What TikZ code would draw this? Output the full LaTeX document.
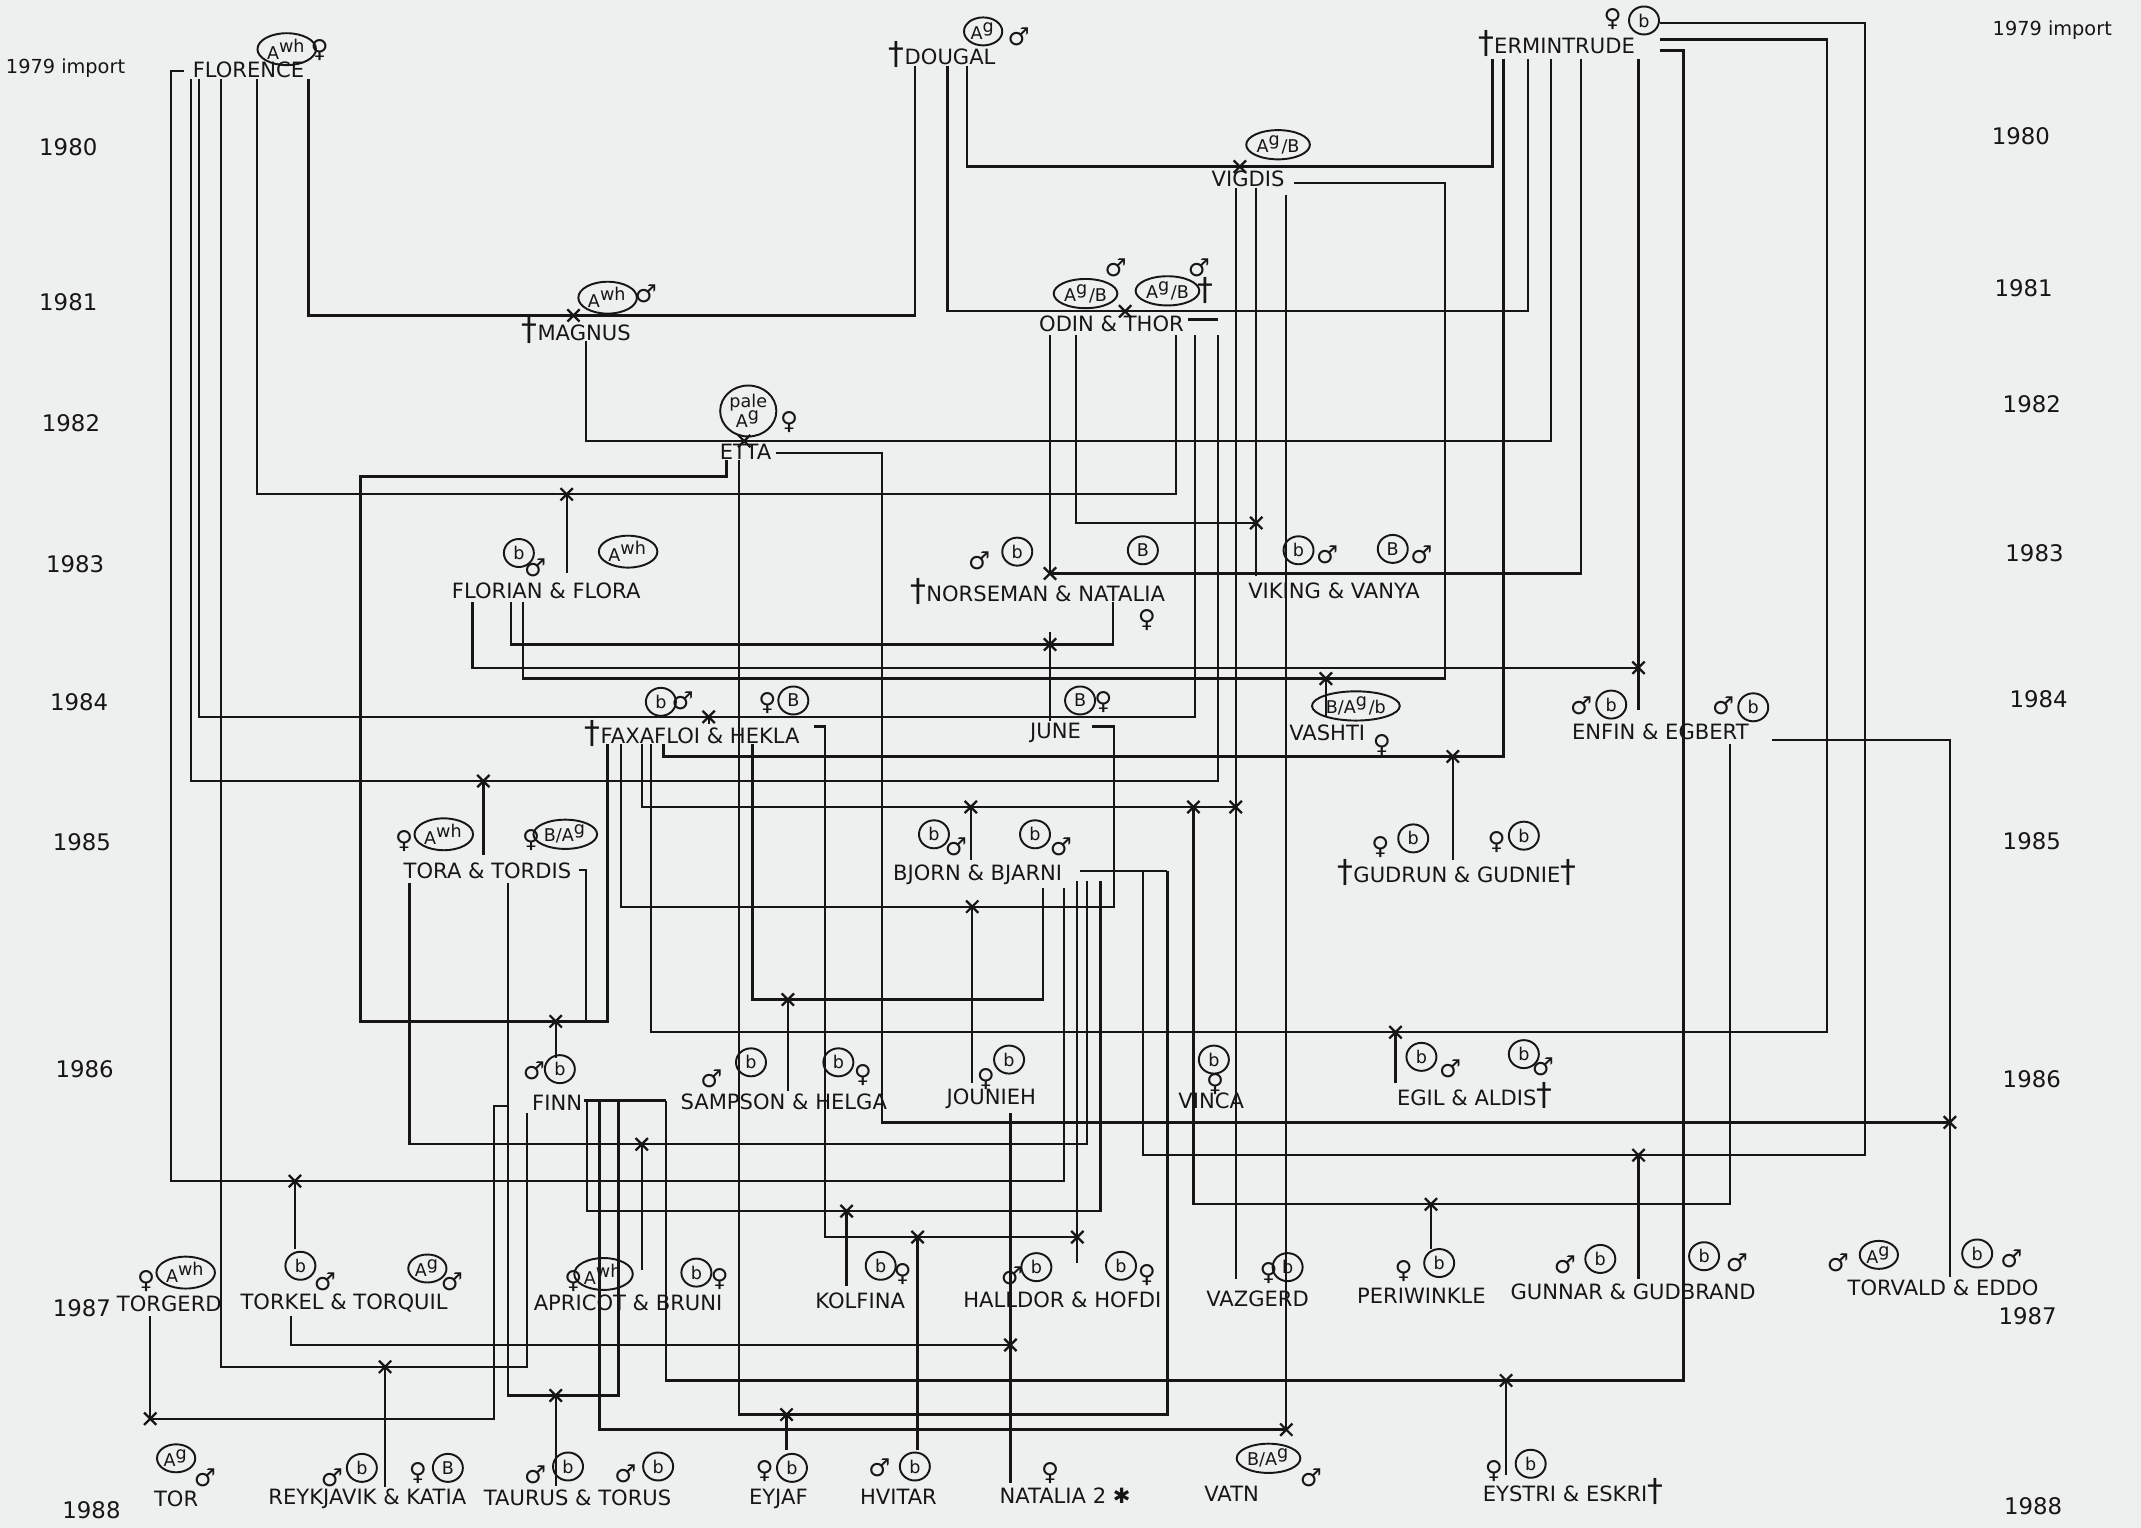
\documentclass[tikz,border=0pt]{standalone}
\usepackage{fontspec}
\setmainfont{DejaVu Sans}
\usepackage{tikz}
\usetikzlibrary{shapes.geometric}
\definecolor{paper}{HTML}{EEEFEF}
\definecolor{ink}{HTML}{161616}
\newcommand{\dg}{{\fontsize{9}{9}\selectfont †}}
\newcommand{\Awh}{A\textsuperscript{wh}}
\newcommand{\Ag}{A\textsuperscript{g}}
\newcommand{\AgB}{A\textsuperscript{g}/B}
\newcommand{\BAg}{B/A\textsuperscript{g}}
\newcommand{\BAgb}{B/A\textsuperscript{g}/b}

\begin{document}
\begin{tikzpicture}[
    x=0.013654cm, y=-0.013654cm,
    link/.style={draw=ink, line width=0.65pt},
    xmk/.style={draw=ink, line width=0.65pt},
    nm/.style={text=ink, font=\fontsize{6}{6}\selectfont, inner sep=0.5pt},
    yr/.style={text=ink, font=\fontsize{6.5}{7}\selectfont, inner sep=0pt},
    tagc/.style={draw=ink, ellipse, line width=0.55pt, inner sep=0.3pt,
                 minimum width=0.3cm, minimum height=0.28cm,
                 text=ink, font=\fontsize{5}{5}\selectfont},
    sx/.style={text=ink, font=\fontsize{7}{7}\selectfont, inner sep=0pt}
  ]
    \fill[paper] (0,0) rectangle (1568,1119);
    \useasboundingbox (0,0) rectangle (1568,1119);

    % years
    \node[yr, font=\fontsize{5.5}{6}\selectfont] (yL79) at (48,50) {1979 import};
    \node[yr] (yL80) at (50,108) {1980};
    \node[yr] (yL81) at (50,221) {1981};
    \node[yr] (yL82) at (52,310) {1982};
    \node[yr] (yL83) at (55,413) {1983};
    \node[yr] (yL84) at (58,514) {1984};
    \node[yr] (yL85) at (60,617) {1985};
    \node[yr] (yL86) at (62,783) {1986};
    \node[yr] (yL87) at (60,958) {1987};
    \node[yr] (yL88) at (67,1106) {1988};
    \node[yr, font=\fontsize{5.5}{6}\selectfont] (yR79) at (1503,22) {1979 import};
    \node[yr] (yR80) at (1480,100) {1980};
    \node[yr] (yR81) at (1482,211) {1981};
    \node[yr] (yR82) at (1488,296) {1982};
    \node[yr] (yR83) at (1490,405) {1983};
    \node[yr] (yR84) at (1493,512) {1984};
    \node[yr] (yR85) at (1488,616) {1985};
    \node[yr] (yR86) at (1488,790) {1986};
    \node[yr] (yR87) at (1485,964) {1987};
    \node[yr] (yR88) at (1489,1103) {1988};

    % names
    \node[nm] (florence) at (182,51) {FLORENCE};
    \node[nm] (dougal) at (690,40) {\dg DOUGAL};
    \node[nm] (ermin) at (1140,32) {\dg ERMINTRUDE};
    \node[nm] (vigdis) at (914,131) {VIGDIS};
    \node[nm] (magnus) at (422,242) {\dg MAGNUS};
    \node[nm] (odin) at (814,237) {ODIN \& THOR};
    \node[nm] (etta) at (546,331) {ETTA};
    \node[nm] (florian) at (400,433) {FLORIAN \& FLORA};
    \node[nm] (norse) at (760,433) {\dg NORSEMAN \& NATALIA};
    \node[nm] (viking) at (977,433) {VIKING \& VANYA};
    \node[nm] (faxa) at (507,537) {\dg FAXAFLOI \& HEKLA};
    \node[nm] (june) at (773,537) {JUNE};
    \node[nm] (vashti) at (972,537) {VASHTI};
    \node[nm] (enfin) at (1216,536) {ENFIN \& EGBERT};
    \node[nm] (tora) at (357,638) {TORA \& TORDIS};
    \node[nm] (bjorn) at (716,641) {BJORN \& BJARNI};
    \node[nm] (gudrun) at (1067,639) {\dg GUDRUN \& GUDNIE\dg};
    \node[nm] (finn) at (408,808) {FINN};
    \node[nm] (sampson) at (574,807) {SAMPSON \& HELGA};
    \node[nm] (jounieh) at (726,805) {JOUNIEH};
    \node[nm] (vinca) at (887,806) {VINCA};
    \node[nm] (egil) at (1080,802) {EGIL \& ALDIS\dg};
    \node[nm] (torgerd) at (124,955) {TORGERD};
    \node[nm] (torkel) at (252,954) {TORKEL \& TORQUIL};
    \node[nm] (apricot) at (460,954) {APRICOT \& BRUNI};
    \node[nm] (kolfina) at (630,953) {KOLFINA};
    \node[nm] (halldor) at (778,952) {HALLDOR \& HOFDI};
    \node[nm] (vazgerd) at (921,951) {VAZGERD};
    \node[nm] (periw) at (1041,949) {PERIWINKLE};
    \node[nm] (gunnar) at (1196,946) {GUNNAR \& GUDBRAND};
    \node[nm] (torvald) at (1423,943) {TORVALD \& EDDO};
    \node[nm] (tor) at (129,1098) {TOR};
    \node[nm] (reyk) at (269,1098) {REYKJAVIK \& KATIA};
    \node[nm] (taurus) at (423,1097) {TAURUS \& TORUS};
    \node[nm] (eyjaf) at (570,1098) {EYJAF};
    \node[nm] (hvitar) at (658,1096) {HVITAR};
    \node[nm] (nat2) at (780,1095) {NATALIA 2 ✱};
    \node[nm] (vatn) at (902,1094) {VATN};
    \node[nm] (eystri) at (1152,1092) {EYSTRI \& ESKRI\dg};

    % colour tags and sex
    \node[tagc] (tgFlo) at (210,36) {\Awh}; \node[sx] (sxFlo) at (234,37) {♀};
    \node[tagc] (tgDou) at (720,23) {\Ag}; \node[sx] (sxDou) at (746,27) {♂};
    \node[sx] (sxErm) at (1181,14) {♀}; \node[tagc] (tgErm) at (1204,15) {b};
    \node[tagc] (tgVig) at (936,106) {\AgB};
    \node[tagc] (tgMag) at (445,218) {\Awh}; \node[sx] (sxMag) at (473,215) {♂};
    \node[tagc] (tgOdi) at (795,215) {\AgB}; \node[sx] (sxOdi) at (817,196) {♂};
    \node[tagc] (tgTho) at (855,213) {\AgB}; \node[sx] (sxTho) at (878,196) {♂};
    \node[sx] (dgTho) at (883,213) {\dg};
    \node[tagc, align=center, minimum size=0.5cm] (tgEtt) at (548,301) {pale\\[-1pt]\Ag};
    \node[sx] (sxEtt) at (578,309) {♀};
    \node[tagc] (tgFln) at (380,405) {b}; \node[sx] (sxFln) at (392,416) {♂};
    \node[tagc] (tgFla) at (460,404) {\Awh};
    \node[sx] (sxNor) at (717,411) {♂}; \node[tagc] (tgNor) at (745,404) {b};
    \node[tagc] (tgNat) at (837,403) {B}; \node[sx] (sxNat) at (840,454) {♀};
    \node[tagc] (tgVik) at (951,403) {b}; \node[sx] (sxVik) at (972,406) {♂};
    \node[tagc] (tgVan) at (1020,402) {B}; \node[sx] (sxVan) at (1041,406) {♂};
    \node[tagc] (tgFax) at (484,514) {b}; \node[sx] (sxFax) at (500,513) {♂};
    \node[sx] (sxHek) at (562,515) {♀}; \node[tagc] (tgHek) at (581,513) {B};
    \node[tagc] (tgJun) at (791,513) {B}; \node[sx] (sxJun) at (808,514) {♀};
    \node[tagc] (tgVas) at (993,517) {\BAgb}; \node[sx] (sxVas) at (1012,546) {♀};
    \node[sx] (sxEnf) at (1158,517) {♂}; \node[tagc] (tgEnf) at (1180,516) {b};
    \node[sx] (sxEgb) at (1262,517) {♂}; \node[tagc] (tgEgb) at (1284,518) {b};
    \node[sx] (sxTor) at (296,616) {♀}; \node[tagc] (tgTor) at (325,611) {\Awh};
    \node[sx] (sxTds) at (389,615) {♀}; \node[tagc] (tgTds) at (414,611) {\BAg};
    \node[tagc] (tgBjo) at (684,611) {b}; \node[sx] (sxBjo) at (700,620) {♂};
    \node[tagc] (tgBja) at (758,611) {b}; \node[sx] (sxBja) at (777,620) {♂};
    \node[sx] (sxGdr) at (1011,620) {♀}; \node[tagc] (tgGdr) at (1035,614) {b};
    \node[sx] (sxGdn) at (1096,617) {♀}; \node[tagc] (tgGdn) at (1116,612) {b};
    \node[sx] (sxFin) at (391,784) {♂}; \node[tagc] (tgFin) at (410,783) {b};
    \node[sx] (sxSam) at (521,790) {♂}; \node[tagc] (tgSam) at (550,778) {b};
    \node[tagc] (tgHel) at (614,778) {b}; \node[sx] (sxHel) at (632,787) {♀};
    \node[sx] (sxJou) at (722,790) {♀}; \node[tagc] (tgJou) at (739,776) {b};
    \node[tagc] (tgVin) at (889,776) {b}; \node[sx] (sxVin) at (890,794) {♀};
    \node[tagc] (tgEgi) at (1041,774) {b}; \node[sx] (sxEgi) at (1062,783) {♂};
    \node[tagc] (tgAld) at (1116,772) {b}; \node[sx] (sxAld) at (1130,781) {♂};
    \node[sx] (sxTgd) at (107,938) {♀}; \node[tagc] (tgTgd) at (136,932) {\Awh};
    \node[tagc] (tgTkl) at (220,927) {b}; \node[sx] (sxTkl) at (238,939) {♂};
    \node[tagc] (tgTql) at (313,929) {\Ag}; \node[sx] (sxTql) at (331,939) {♂};
    \node[sx] (sxApr) at (420,938) {♀}; \node[tagc] (tgApr) at (442,933) {\Awh};
    \node[tagc] (tgBru) at (510,932) {b}; \node[sx] (sxBru) at (527,937) {♀};
    \node[tagc] (tgKol) at (645,927) {b}; \node[sx] (sxKol) at (661,933) {♀};
    \node[sx] (sxHal) at (741,934) {♂}; \node[tagc] (tgHal) at (759,928) {b};
    \node[tagc] (tgHof) at (821,927) {b}; \node[sx] (sxHof) at (840,934) {♀};
    \node[sx] (sxVaz) at (929,932) {♀}; \node[tagc] (tgVaz) at (943,928) {b};
    \node[sx] (sxPer) at (1028,931) {♀}; \node[tagc] (tgPer) at (1054,925) {b};
    \node[sx] (sxGun) at (1146,926) {♂}; \node[tagc] (tgGun) at (1172,922) {b};
    \node[tagc] (tgGub) at (1248,920) {b}; \node[sx] (sxGub) at (1272,925) {♂};
    \node[sx] (sxTvd) at (1346,925) {♂}; \node[tagc] (tgTvd) at (1376,919) {\Ag};
    \node[tagc] (tgEdd) at (1448,918) {b}; \node[sx] (sxEdd) at (1473,922) {♂};
    \node[tagc] (tgTr) at (129,1068) {\Ag}; \node[sx] (sxTr) at (150,1082) {♂};
    \node[sx] (sxRey) at (243,1082) {♂}; \node[tagc] (tgRey) at (265,1075) {b};
    \node[sx] (sxKat) at (306,1079) {♀}; \node[tagc] (tgKat) at (328,1075) {B};
    \node[sx] (sxTau) at (392,1080) {♂}; \node[tagc] (tgTau) at (416,1074) {b};
    \node[sx] (sxTrs) at (458,1079) {♂}; \node[tagc] (tgTrs) at (482,1074) {b};
    \node[sx] (sxEyj) at (560,1077) {♀}; \node[tagc] (tgEyj) at (580,1075) {b};
    \node[sx] (sxHvi) at (644,1075) {♂}; \node[tagc] (tgHvi) at (670,1074) {b};
    \node[sx] (sxNa2) at (769,1079) {♀};
    \node[tagc] (tgVat) at (929,1068) {\BAg}; \node[sx] (sxVat) at (960,1082) {♂};
    \node[sx] (sxEys) at (1094,1077) {♀}; \node[tagc] (tgEys) at (1121,1072) {b};

    % mating points
    \coordinate (mMagnus) at (420,231);  \coordinate (mVigdis) at (908,122);
    \coordinate (mOdin) at (824,228);    \coordinate (mEtta) at (545,323);
    \coordinate (mFlora) at (415,362);   \coordinate (mViking) at (920,383);
    \coordinate (mNorse) at (769,420);   \coordinate (mJune) at (769,472);
    \coordinate (mEnfin) at (1200,489);  \coordinate (mVashti) at (971,497);
    \coordinate (mFaxa) at (519,525);    \coordinate (mGudrun) at (1064,554);
    \coordinate (mTora) at (354,572);    \coordinate (mBjorn) at (711,591);
    \coordinate (mVinca) at (874,591);   \coordinate (mVazg) at (905,591);
    \coordinate (mJoun) at (712,664);    \coordinate (mSamp) at (577,732);
    \coordinate (mFinn) at (407,748);    \coordinate (mEgil) at (1022,756);
    \coordinate (mEddo) at (1428,822);   \coordinate (mApri) at (470,838);
    \coordinate (mGunnar) at (1200,846); \coordinate (mTorkel) at (216,865);
    \coordinate (mPeri) at (1048,882);   \coordinate (mKolf) at (620,887);
    \coordinate (mHvit) at (672,906);    \coordinate (mHall) at (789,906);
    \coordinate (mNat) at (740,985);     \coordinate (mReyk) at (282,1001);
    \coordinate (mEystri) at (1103,1011); \coordinate (mTaur) at (407,1022);
    \coordinate (mEyjaf) at (576,1036);  \coordinate (mTor) at (110,1039);
    \coordinate (mVatn) at (942,1047);

    % 1979 imports
    \draw[link] (135,52) -- (125,52) |- (mTorkel) -- (779,865) -- (779,650);
    \draw[link] (140,58) |- (mTora) -- (892,572) -- (892,245);
    \draw[link] (146,58) |- (mFaxa) -- (875,525) -- (875,245);
    \draw[link] (162,58) |- (mReyk) -- (386,1001) -- (386,815);
    \draw[link] (188,58) |- (mFlora) -- (861,362) -- (861,245);
    \draw[link] (226,58) |- (mMagnus) -- (670,231) -- (670,48);
    \draw[link] (708,48) |- (mVigdis) -- (1093,122) -- (1093,43);
    \draw[link] (694,48) |- (mOdin) -- (1119,228) -- (1119,43);
    \draw[link] (1216,17) -| (1366,846) -- (mGunnar) -- (837,846) -- (837,638);
    \draw[link] (1216,29) -| (1338,756) -- (mEgil) -- (477,756) -- (477,545);
    \draw[link] (1216,37) -| (1233,1011) -- (mEystri) -- (488,1011) -- (488,806);
    \draw[link] (1101,43) |- (mGudrun) -- (486,554) -- (486,545);
    \draw[link] (1136,43) |- (mEtta) -- (429,323) -- (429,250);
    \draw[link] (1158,43) |- (mNorse) -- (769,245);
    \draw[link] (1200,43) -- (mEnfin) -- (1200,520);
    \draw[link] (870,234) -- (892,234);

    % 1980 - 1982
    \draw[link] (905,138) -- (mVazg) -- (mVinca) -- (mBjorn) -- (470,591) -- (470,545);
    \draw[link] (mVazg) -- (905,937);
    \draw[link] (mVinca) |- (mPeri) -- (1267,882) -- (1267,545);
    \draw[link] (920,138) -- (mViking) -- (920,422);
    \draw[link] (788,245) |- (mViking);
    \draw[link] (942,143) -- (mVatn) -- (439,1047) -- (439,806);
    \draw[link] (948,134) -| (1058,497) -- (mVashti) -- (383,497) -- (383,441);
    \draw[link] (532,337) |- (264,349) |- (mFinn) -- (445,748) -- (445,545);
    \draw[link] (541,337) |- (mEyjaf) -- (855,1036) -- (855,638);
    \draw[link] (568,332) -| (646,822) -- (mEddo);
    \draw[link] (1298,542) -| (mEddo) -- (1428,935);

    % 1983 - 1985
    \draw[link] (346,441) |- (mEnfin);
    \draw[link] (374,441) |- (mJune) -- (815,472) -- (815,441);
    \draw[link] (769,463) -- (mJune) -- (769,528);
    \draw[link] (mFlora) -- (415,420);
    \draw[link] (455,545) |- (mJoun) -- (816,664) -- (816,532) -- (800,532);
    \draw[link] (mJoun) -- (712,793);
    \draw[link] (551,545) |- (mSamp) -- (764,732) -- (764,650);
    \draw[link] (mSamp) -- (577,799);
    \draw[link] (596,532) -| (604,906) -- (mHvit) -- (mHall) -- (789,645);
    \draw[link] (mHvit) -- (672,1062);
    \draw[link] (mHall) -- (789,925);
    \draw[link] (300,647) |- (mApri) -- (796,838) -- (796,645);
    \draw[link] (mApri) -- (470,930);
    \draw[link] (372,647) |- (mTaur) -- (453,1022) -- (453,806);
    \draw[link] (mTaur) -- (407,1088);
    \draw[link] (424,637) -| (429,748);
    \draw[link] (mTora) -- (354,626);
    \draw[link] (mFinn) -- (407,775);
    \draw[link] (791,638) -- (855,638);
    \draw[link] (mBjorn) -- (711,630);
    \draw[link] (806,645) |- (mKolf) -- (430,887) -- (430,806);
    \draw[link] (mKolf) -- (620,942);

    % 1986 - 1988
    \draw[link] (428,806) -- (488,806);
    \draw[link] (372,810) -- (362,810) |- (mTor) -- (110,964);
    \draw[link] (213,964) |- (mNat) -- (740,815);
    \draw[link] (mNat) -- (740,1086);
    \draw[link] (mTorkel) -- (216,915);
    \draw[link] (mReyk) -- (282,1089);
    \draw[link] (mEyjaf) -- (576,1062);
    \draw[link] (mEystri) -- (1103,1080);
    \draw[link] (mGunnar) -- (1200,937);
    \draw[link] (mPeri) -- (1048,915);
    \draw[link] (mEgil) -- (1022,793);
    \draw[link] (mGudrun) -- (1064,630);
    \draw[link] (mVashti) -- (971,525);
    \draw[link] (mFaxa) -- (519,530);

    % crosses
    \foreach \m in {mMagnus,mVigdis,mOdin,mEtta,mFlora,mViking,mNorse,mJune,
                    mEnfin,mVashti,mFaxa,mGudrun,mTora,mBjorn,mVinca,mVazg,
                    mJoun,mSamp,mFinn,mEgil,mEddo,mApri,mGunnar,mTorkel,mPeri,
                    mKolf,mHvit,mHall,mNat,mReyk,mEystri,mTaur,mEyjaf,mTor,mVatn}
      \draw[xmk] (\m) +(-4.5,-4.5) -- +(4.5,4.5) +(-4.5,4.5) -- +(4.5,-4.5);
  \end{tikzpicture}
\end{document}
